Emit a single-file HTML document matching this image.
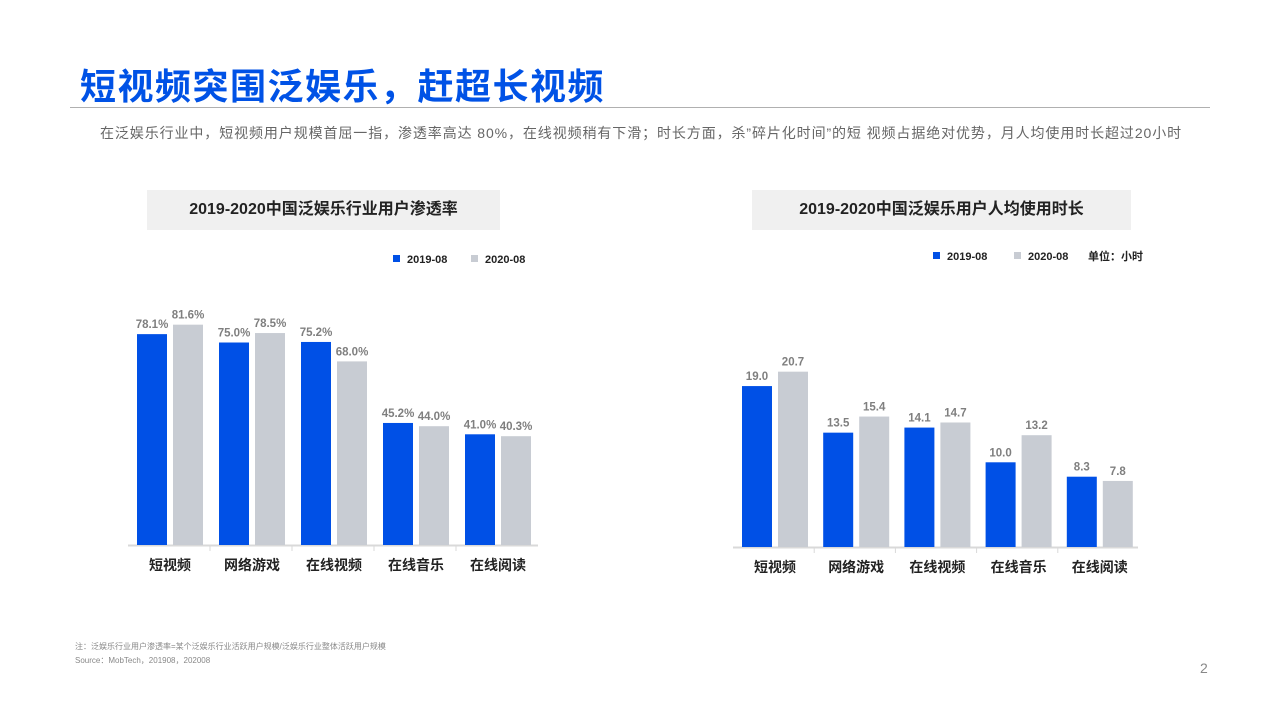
<!DOCTYPE html>
<html><head><meta charset="utf-8">
<style>
body{margin:0;width:1280px;height:720px;background:#fff;position:relative;overflow:hidden;font-family:"Liberation Sans","Noto Sans CJK SC",sans-serif}
.abs{position:absolute}
</style></head>
<body>
<div class="abs" style="left:80px;top:58px;font-size:36px;font-weight:bold;color:#0052e6;letter-spacing:1.5px;font-family:'Noto Sans CJK SC',sans-serif">短视频突围泛娱乐，赶超长视频</div>
<div class="abs" style="left:70px;top:107px;width:1140px;height:1px;background:#b0b0b0"></div>
<div class="abs" style="left:100px;top:123px;font-size:14px;color:#666;letter-spacing:0.9px;white-space:nowrap">在泛娱乐行业中，短视频用户规模首屈一指，渗透率高达 80%，在线视频稍有下滑；时长方面，杀”碎片化时间”的短 视频占据绝对优势，月人均使用时长超过20小时</div>
<div class="abs" style="left:147px;top:190px;width:353px;height:40px;background:#f0f0f0;text-align:center;line-height:40px;font-size:16px;font-weight:bold;color:#222">2019-2020中国泛娱乐行业用户渗透率</div>
<div class="abs" style="left:752px;top:190px;width:379px;height:40px;background:#f0f0f0;text-align:center;line-height:40px;font-size:16px;font-weight:bold;color:#222">2019-2020中国泛娱乐用户人均使用时长</div>
<svg class="abs" style="left:0;top:0" width="1280" height="720" id="svg"></svg>
<div class="abs" style="left:75px;top:640px;font-size:8px;color:#888;line-height:14px">注：泛娱乐行业用户渗透率=某个泛娱乐行业活跃用户规模/泛娱乐行业整体活跃用户规模<br>Source：MobTech，201908，202008</div>
<div class="abs" style="left:1200px;top:660px;font-size:14px;color:#888">2</div>
<script>
const categories=["短视频","网络游戏","在线视频","在线音乐","在线阅读"];
const penetration2019=[78.1,75.0,75.2,45.2,41.0];
const penetration2020=[81.6,78.5,68.0,44.0,40.3];
const hours2019=[19.0,13.5,14.1,10.0,8.3];
const hours2020=[20.7,15.4,14.7,13.2,7.8];
const svg=document.getElementById('svg');
const NS='http://www.w3.org/2000/svg';
function mk(tag,attrs,txt){const e=document.createElementNS(NS,tag);for(const k in attrs)e.setAttribute(k,attrs[k]);if(txt!=null)e.textContent=txt;svg.appendChild(e);return e;}
function chart(cfg){
  const yScale=v=>cfg.base-v*cfg.ppu;
  const xGroup=i=>cfg.x0+i*cfg.step;
  const ax=mk('line',{x1:cfg.ax0,x2:cfg.ax1,y1:cfg.base+0.5,y2:cfg.base+0.5,stroke:'#d9d9d9','stroke-width':2});
  
  
  for(let i=1;i<categories.length;i++){
    const t=mk('line',{x1:xGroup(i)-9,x2:xGroup(i)-9,y1:cfg.base,y2:cfg.base+6,stroke:'#d9d9d9'});
    
    
  }
  categories.forEach((c,i)=>{
    [[cfg.a,'#0050e6',0],[cfg.b,'#c8ccd3',36]].forEach(([arr,col,off])=>{
      const v=arr[i],x=xGroup(i)+off,y=yScale(v);
      const r=mk('rect',{x:x,y:y,width:30,height:cfg.base-y,fill:col});
      
      
      const l=mk('text',{x:x+15,y:y-6,'text-anchor':'middle','font-size':11.5,'font-weight':'bold',fill:'#7f7f7f'},v.toFixed(1)+cfg.suf);
      
      
    });
    const cl=mk('text',{x:xGroup(i)+33,y:cfg.base+25,'text-anchor':'middle','font-size':14,'font-weight':'bold',fill:'#222'},c);
    
    
  });
}
chart({p:'left',a:penetration2019,b:penetration2020,base:545,ppu:2.70,x0:137,step:82,ax0:128,ax1:538,suf:'%'});
chart({p:'right',a:hours2019,b:hours2020,base:547,ppu:8.47,x0:742,step:81.2,ax0:733,ax1:1138,suf:''});
function legend(p,x,y,items){
  items.forEach(([t,col,dx])=>{
    const s=mk('rect',{x:x+dx,y:y-6,width:7,height:7,fill:col});
    
    
    const tx=mk('text',{x:x+dx+14,y:y+2,'font-size':11,'font-weight':'bold',fill:'#222'},t);
    
    
  });
}
legend('left',393,261,[['2019-08','#0050e6',0],['2020-08','#c8ccd3',78]]);
legend('right',933,258,[['2019-08','#0050e6',0],['2020-08','#c8ccd3',81]]);
const u=mk('text',{x:1088,y:260,'font-size':11,'font-weight':'bold',fill:'#222'},'单位：小时');


</script>
</body></html>
